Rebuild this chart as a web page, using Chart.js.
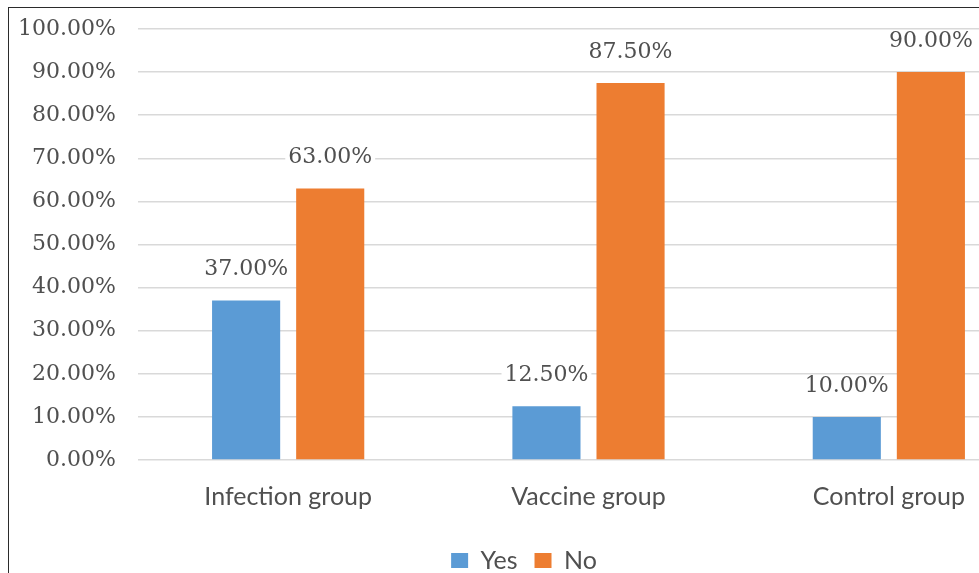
<!DOCTYPE html>
<html lang="en">
<head>
    <meta charset="UTF-8">
    <title>Yes / No by group</title>
    <script src="https://cdn.jsdelivr.net/npm/chart.js"></script>
    <style>
        body {
            margin: 0;
            padding: 0;
            background: #fff;
            overflow: hidden;
        }
        .chart-box {
            position: absolute;
            left: 8px;
            top: 7px;
            width: 1054px;
            height: 600px;
            border: 1.5px solid #2b2b2b;
            background: #fff;
        }
    </style>
</head>
<body>
    <div class="chart-box">
        <canvas id="groupChart"></canvas>
    </div>
    <script>
        // Data (percent)
        const groups = ['Infection group', 'Vaccine group', 'Control group'];
        const yesValues = [37.0, 12.5, 10.0];
        const noValues = [63.0, 87.5, 90.0];

        const blue = '#5B9BD5';
        const orange = '#ED7D31';
        const textGray = '#505050';

        // Percentage labels above each bar, on a white patch like the original
        const barLabels = {
            id: 'barLabels',
            afterDatasetsDraw(chart) {
                const ctx = chart.ctx;
                ctx.save();
                ctx.font = '22px "DejaVu Serif"';
                ctx.textAlign = 'center';
                ctx.textBaseline = 'middle';
                chart.data.datasets.forEach((ds, i) => {
                    chart.getDatasetMeta(i).data.forEach((bar, j) => {
                        const text = ds.data[j].toFixed(2) + '%';
                        const y = bar.y - 31;
                        const w = ctx.measureText(text).width;
                        ctx.fillStyle = '#fff';
                        ctx.fillRect(bar.x - w / 2 - 3, y - 11, w + 6, 22);
                        ctx.fillStyle = textGray;
                        ctx.fillText(text, bar.x, y);
                    });
                });
                ctx.restore();
            }
        };

        new Chart(document.getElementById('groupChart'), {
            type: 'bar',
            data: {
                labels: groups,
                datasets: [
                    { label: 'Yes', data: yesValues, backgroundColor: blue },
                    { label: 'No', data: noValues, backgroundColor: orange }
                ]
            },
            options: {
                responsive: true,
                maintainAspectRatio: false,
                animation: false,
                categoryPercentage: 0.56,
                barPercentage: 0.81,
                layout: { padding: { top: 21, right: 24, bottom: 25 } },
                plugins: {
                    legend: {
                        position: 'bottom',
                        labels: {
                            font: { family: 'Lato', size: 25 },
                            color: textGray,
                            boxWidth: 17,
                            boxHeight: 15,
                            padding: 17
                        }
                    },
                    tooltip: { enabled: false }
                },
                scales: {
                    x: {
                        afterFit(scale) { scale.height += 5; },
                        grid: { display: false },
                        border: { display: false },
                        ticks: {
                            font: { family: 'Lato', size: 25 },
                            color: textGray,
                            padding: 14
                        }
                    },
                    y: {
                        min: 0,
                        max: 100,
                        afterFit(scale) { scale.width = 129; },
                        // transparent tick marks push the labels left without extra top padding
                        grid: { color: '#d9d9d9', lineWidth: 1.5, tickLength: 22, tickColor: 'rgba(0,0,0,0)' },
                        border: { display: false },
                        ticks: {
                            stepSize: 10,
                            padding: 0,
                            font: { family: 'DejaVu Serif', size: 22 },
                            color: textGray,
                            callback: v => v.toFixed(2) + '%'
                        }
                    }
                }
            },
            plugins: [barLabels]
        });
    </script>
</body>
</html>
